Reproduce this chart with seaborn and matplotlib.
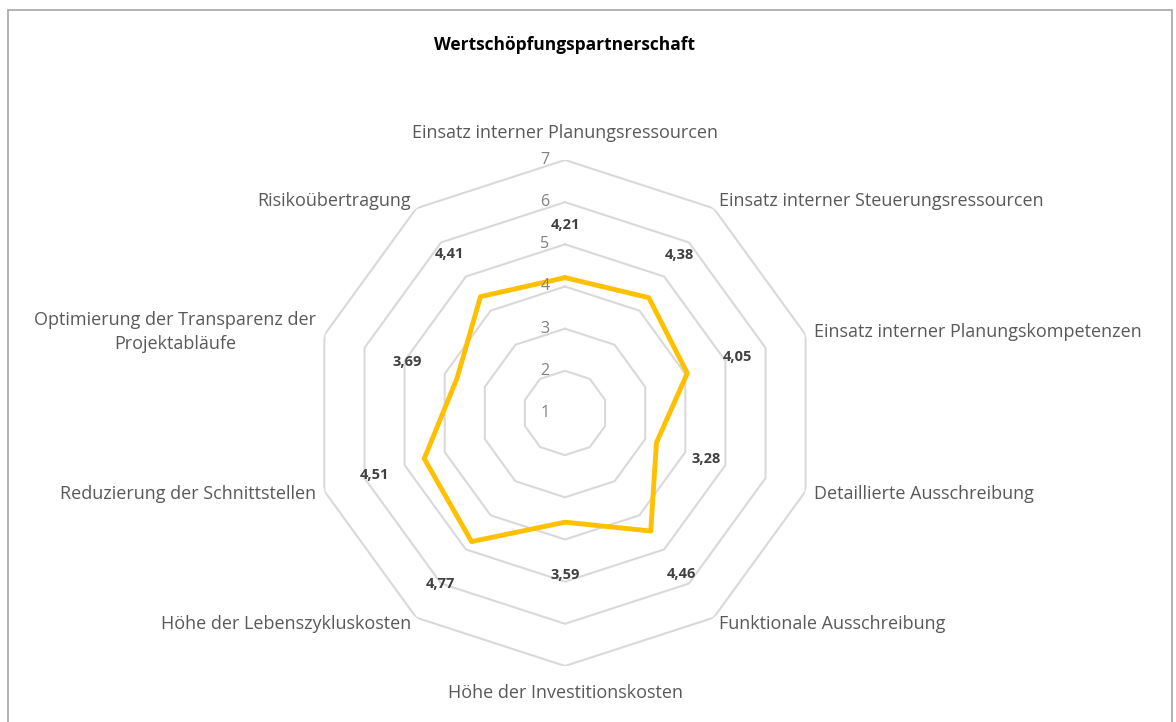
import numpy as np
import pandas as pd
import seaborn as sns
import matplotlib.pyplot as plt
from matplotlib.patches import Rectangle

categories = [
    'Einsatz interner Planungsressourcen',
    'Einsatz interner Steuerungsressourcen',
    'Einsatz interner Planungskompetenzen',
    'Detaillierte Ausschreibung',
    'Funktionale Ausschreibung',
    'Höhe der Investitionskosten',
    'Höhe der Lebenszykluskosten',
    'Reduzierung der Schnittstellen',
    'Optimierung der Transparenz der\nProjektabläufe',
    'Risikoübertragung',
]
values = [4.21, 4.38, 4.05, 3.28, 4.46, 3.59, 4.77, 4.51, 3.69, 4.41]
value_labels = ['4,21', '4,38', '4,05', '3,28', '4,46', '3,59', '4,77', '4,51', '3,69', '4,41']
ring_ticks = [1, 2, 3, 4, 5, 6, 7]
title = 'Wertschöpfungspartnerschaft'

sns.set_theme(style='white')
plt.rcParams['font.family'] = ['Open Sans', 'DejaVu Sans']

fig = plt.figure(figsize=(11.76, 7.22), dpi=100)
fig.patches.append(Rectangle((8 / 1176, -0.1), 1164 / 1176, 1.1 - 10 / 722,
                             transform=fig.transFigure, fill=False,
                             edgecolor='#A6A6A6', lw=1.2))

ax = fig.add_axes([0.2653, 0.0776, 0.4303, 0.7008], projection='polar')
ax.set_theta_zero_location('N')
ax.set_theta_direction(-1)
ax.set_ylim(1, 7)
ax.grid(False)
ax.spines['polar'].set_visible(False)
ax.set_xticks([])
ax.set_yticks([])
ax.set_facecolor('none')

n = len(categories)
theta = np.arange(n) * 2 * np.pi / n
theta_c = np.append(theta, 2 * np.pi)

# polygon gridlines
for r in ring_ticks[1:]:
    ax.plot(theta_c, [r] * (n + 1), color='#D9D9D9', lw=1.5, zorder=1)
for r in ring_ticks:
    ax.annotate(str(r), xy=(0, r), xytext=(-20, 0), textcoords='offset pixels',
                ha='center', va='center', fontsize=11.5, color='#808080', zorder=6)

df = pd.DataFrame({'theta': theta_c, 'value': values + values[:1]})
sns.lineplot(data=df, x='theta', y='value', ax=ax, sort=False, estimator=None,
             color='#FFC000', lw=3.5, zorder=4)
ax.set_xlabel('')
ax.set_ylabel('')

for t, v, lab in zip(theta, values, value_labels):
    ax.text(t, v + 1.25, lab, ha='center', va='center', fontsize=10.5,
            fontweight='bold', color='#404040', zorder=5)

for t, cat in zip(theta, categories):
    deg = np.rad2deg(t)
    if np.isclose(deg, 0) or np.isclose(deg, 180):
        ha = 'center'
        r = 7.65
    elif deg < 180:
        ha = 'left'
        r = 7.2
    else:
        ha = 'right'
        r = 7.2
    ax.text(t, r, cat, ha=ha, va='center', fontsize=13, color='#595959',
            multialignment='center', linespacing=1.4)

fig.text(565 / 1176, 1 - 45 / 722, title, ha='center', va='center',
         fontsize=12.5, fontweight='bold', color='black')

fig.savefig('out.png', dpi=100)
